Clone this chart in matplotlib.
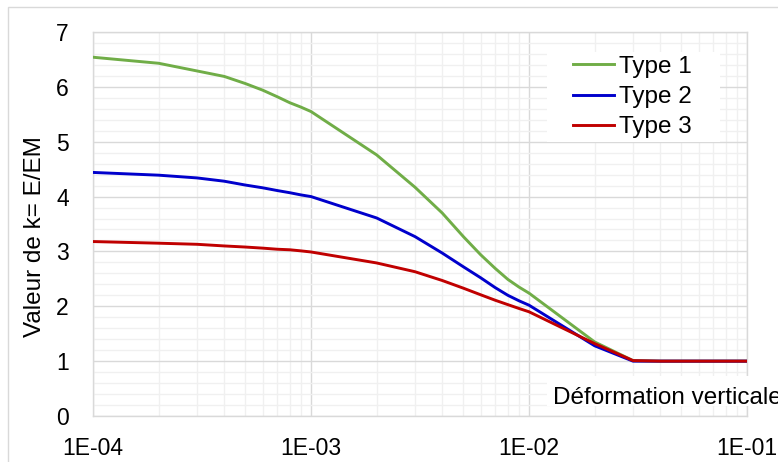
import matplotlib
matplotlib.use("Agg")
import matplotlib.pyplot as plt
from matplotlib.ticker import LogLocator, MultipleLocator, FixedLocator, NullFormatter
from matplotlib.patches import Rectangle

plt.rcParams['font.family'] = ['Liberation Sans', 'DejaVu Sans']

strain = [1e-4, 2e-4, 3e-4, 4e-4, 5e-4, 6e-4, 7e-4, 8e-4, 9e-4,
          1e-3, 2e-3, 3e-3, 4e-3, 5e-3, 6e-3, 7e-3, 8e-3, 9e-3,
          1e-2, 2e-2, 3e-2, 4e-2, 5e-2, 6e-2, 7e-2, 8e-2, 9e-2, 1e-1]
type1 = [6.54, 6.43, 6.29, 6.19, 6.06, 5.94, 5.82, 5.71, 5.63,
         5.55, 4.76, 4.17, 3.70, 3.27, 2.94, 2.69, 2.49, 2.35,
         2.24, 1.35, 1.01, 1.0, 1.0, 1.0, 1.0, 1.0, 1.0, 1.0]
type2 = [4.44, 4.39, 4.34, 4.28, 4.21, 4.16, 4.11, 4.07, 4.03,
         4.00, 3.61, 3.27, 2.97, 2.72, 2.52, 2.34, 2.20, 2.10,
         2.02, 1.28, 1.0, 1.0, 1.0, 1.0, 1.0, 1.0, 1.0, 1.0]
type3 = [3.18, 3.15, 3.13, 3.10, 3.08, 3.06, 3.04, 3.03, 3.01,
         2.99, 2.79, 2.63, 2.47, 2.33, 2.21, 2.11, 2.03, 1.96,
         1.90, 1.32, 1.01, 1.0, 1.0, 1.0, 1.0, 1.0, 1.0, 1.0]
series_names = ['Type 1', 'Type 2', 'Type 3']
colors = ['#70ad47', '#0000cc', '#c00000']
xticks = [1e-4, 1e-3, 1e-2, 1e-1]
xticklabels = ['1E-04', '1E-03', '1E-02', '1E-01']
yticks = [0, 1, 2, 3, 4, 5, 6, 7]

W, H = 778, 462
AX_L, AX_R, AX_T, AX_B = 93, 747, 32, 416


def ax_x(px):
    return (px - AX_L) / (AX_R - AX_L)


def ax_y(py):
    return (AX_B - py) / (AX_B - AX_T)


fig = plt.figure(figsize=(W / 100, H / 100), dpi=100)
fig.patches.append(Rectangle((8 / W, -0.1), 1.2, (H - 7) / H + 0.1,
                             transform=fig.transFigure, facecolor='none',
                             edgecolor='#d9d9d9', lw=1))
ax = fig.add_axes([AX_L / W, (H - AX_B) / H, (AX_R - AX_L) / W, (AX_B - AX_T) / H])
ax.set_xscale('log')
ax.set_xlim(1e-4, 1e-1)
ax.set_ylim(0, 7)

for vals, name, c in zip([type1, type2, type3], series_names, colors):
    ax.plot(strain, vals, color=c, lw=2.1, label=name, zorder=3,
            solid_joinstyle='round')

ax.xaxis.set_major_locator(FixedLocator(xticks))
ax.set_xticklabels(xticklabels)
ax.xaxis.set_minor_locator(LogLocator(base=10, subs=range(2, 10)))
ax.xaxis.set_minor_formatter(NullFormatter())
ax.set_yticks(yticks)
ax.yaxis.set_minor_locator(MultipleLocator(0.2))
ax.grid(which='major', color='#d9d9d9', lw=1, zorder=1)
ax.grid(which='minor', color='#f0f0f0', lw=1, zorder=0)
ax.set_axisbelow(True)
for s in ax.spines.values():
    s.set_color('#d9d9d9')
    s.set_linewidth(1)
ax.tick_params(which='both', length=0, labelsize=16.5, colors='black')
ax.tick_params(axis='y', pad=17.5)
ax.tick_params(axis='x', pad=15)

# x-axis title box (inside the plot, bottom right)
ax.add_patch(Rectangle((ax_x(547), ax_y(406)), 1.0, ax_y(376) - ax_y(406),
                       transform=ax.transAxes, facecolor='white',
                       edgecolor='none', zorder=4, clip_on=False))
ax.text(ax_x(553), ax_y(403.5), 'Déformation verticale',
        transform=ax.transAxes, fontsize=17.5, ha='left', va='baseline',
        clip_on=False, zorder=5)

fig.text(35 / W, 1 - 236.5 / H, 'Valeur de k= E/EM', rotation=90,
         fontsize=17.5, ha='center', va='center')

# legend background
ax.add_patch(Rectangle((ax_x(547), ax_y(142)), ax_x(720) - ax_x(547),
                       ax_y(52) - ax_y(142), transform=ax.transAxes,
                       facecolor='white', edgecolor='none', zorder=4))
leg = ax.legend(loc='center', bbox_to_anchor=(ax_x(632), ax_y(97)),
                frameon=False, fontsize=17.5, handlelength=1.69,
                handletextpad=0.2, labelspacing=0.33, borderpad=0,
                borderaxespad=0)
leg.set_zorder(6)

fig.savefig('out.png', dpi=100)
